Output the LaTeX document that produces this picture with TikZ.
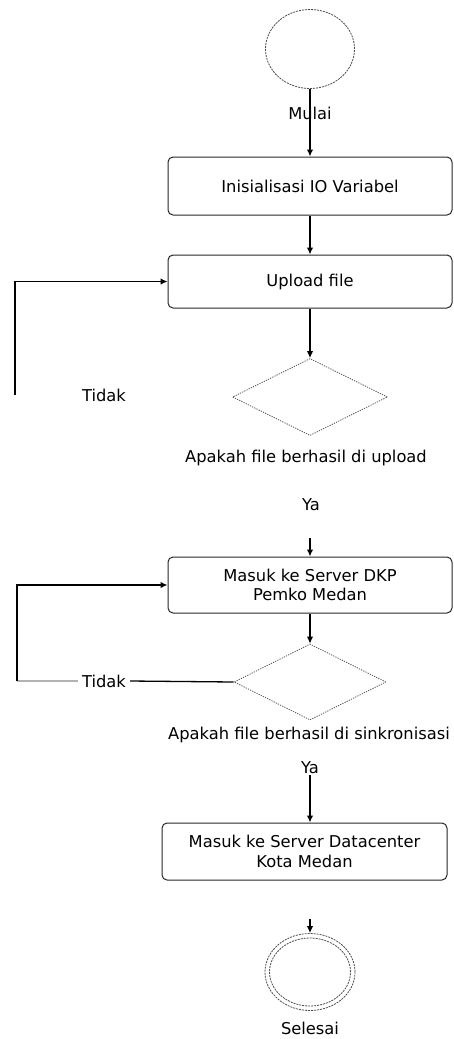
\documentclass[tikz,border=0pt]{standalone}
\usepackage{fontspec}
\setmainfont{DejaVu Sans}
\usetikzlibrary{shapes.geometric,arrows.meta}
\begin{document}
\begin{tikzpicture}[x=1pt,y=-1pt,
  every node/.style={font=\fontsize{16.3}{19.5}\selectfont, text=black},
  proc/.style={rectangle, rounded corners=5pt, draw=black!85, line width=1pt,
    minimum width=284pt, minimum height=56pt, align=center, inner sep=0pt},
  dec/.style={diamond, draw=black!70, line width=0.8pt, dash pattern=on 1.2pt off 1.2pt,
    minimum width=155pt, minimum height=77pt, inner sep=0pt},
  termc/.style={ellipse, draw=black!70, line width=0.8pt, dash pattern=on 2pt off 1pt,
    inner sep=0pt},
  lbl/.style={inner sep=1pt},
  arr/.style={draw=black, line width=1.3pt, -{Latex[length=7pt,width=6.5pt]}},
  ln/.style={draw=black, line width=1.3pt}
]
\useasboundingbox (0,0) rectangle (453,1039);

% nodes
\node[termc, minimum width=89pt, minimum height=79pt] (start) at (310,49) {};
\node[proc, minimum height=58pt] (init) at (310,186) {Inisialisasi IO Variabel};
\node[proc, minimum height=53pt] (upload) at (310,281.5) {Upload file};
\node[dec] (d1) at (310,397) {};
\node[lbl] (q1) at (306,458) {Apakah file berhasil di upload};
\node[lbl] (ya1) at (311,505) {Ya};
\node[lbl] (tidak1) at (104,395) {Tidak};
\coordinate (c1) at (15,395);
\node[proc, minimum height=56pt] (dkp) at (310,585) {Masuk ke Server DKP\\Pemko Medan};
\node[dec, minimum width=152pt, minimum height=76pt] (d2) at (310,682) {};
\node[lbl] (q2) at (309,735) {Apakah file berhasil di sinkronisasi};
\node[lbl] (ya2) at (310,768) {Ya};
\node[lbl, inner xsep=4pt] (tidak2) at (104,681) {Tidak};
\coordinate (c2) at (17,681);
\node[proc, minimum width=285pt, minimum height=57pt] (dc) at (304.5,851.5) {Masuk ke Server Datacenter\\Kota Medan};
\node[termc, minimum width=90pt, minimum height=77pt] (end) at (310,972) {};
\node[termc, minimum width=81pt, minimum height=68pt] (endin) at (310,972) {};
\node[lbl] (selesai) at (310,1028) {Selesai};

% connectors
\draw[arr] (start.south) -- (init.north);
\node[lbl] (mulai) at (310,113) {Mulai};
\draw[arr] (init.south) -- (upload.north);
\draw[arr] (upload.south) -- (d1.north);
\draw[arr] (c1) |- (upload.west);
\coordinate (a1) at (310,538);
\draw[arr] (a1) -- (dkp.north);
\draw[arr] (dkp.south) -- (d2.north);
\draw[ln] (d2.west) -- (tidak2.east);
\draw[ln, draw=black!30] (tidak2.west) -- (c2);
\draw[arr] (c2) |- (dkp.west);
\draw[arr] (ya2.south) -- (ya2.south |- dc.north);
\coordinate (a2) at (310,919);
\draw[arr] (a2) -- (end.north);
\end{tikzpicture}
\end{document}
